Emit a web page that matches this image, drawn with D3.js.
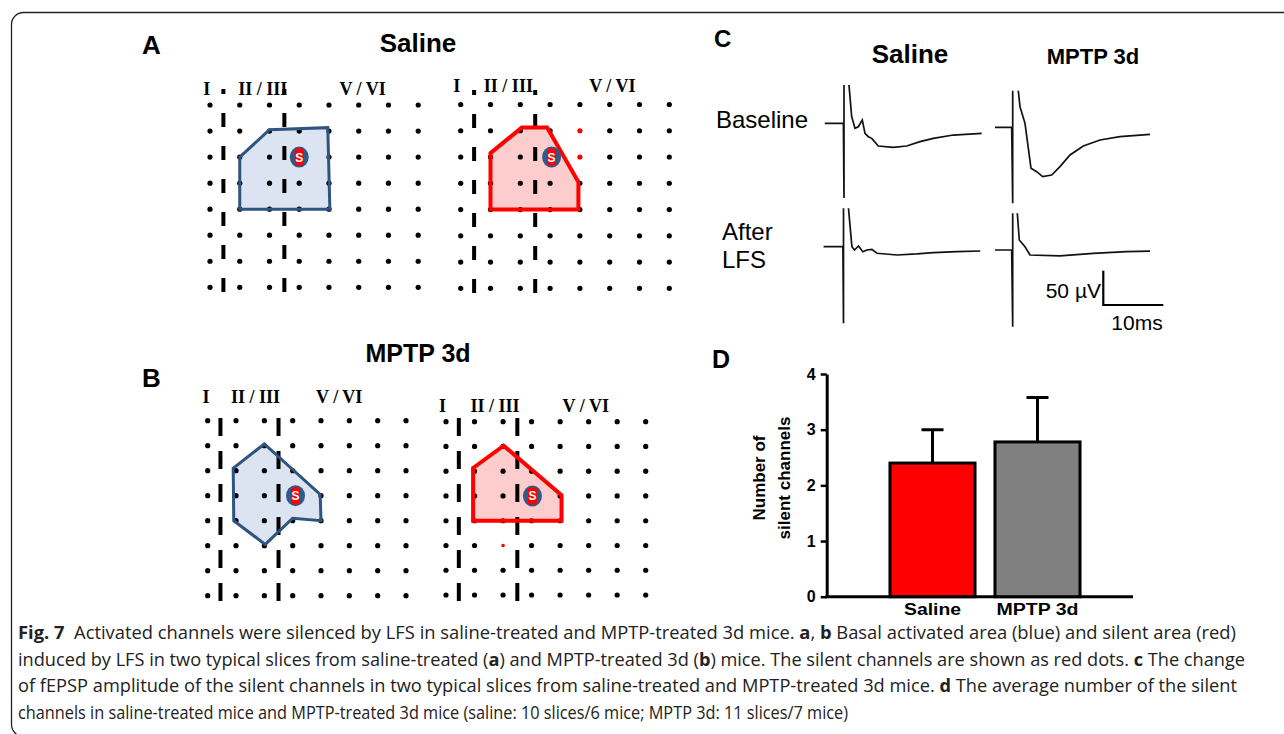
<!DOCTYPE html>
<html>
<head>
<meta charset="utf-8">
<script src="https://cdn.jsdelivr.net/npm/d3@7"></script>
<style>
  body { margin: 0; background: #fff; }
  svg { display: block; }
  text { white-space: pre; }
</style>
</head>
<body>
<div id="fig"></div>
<script>
// ---- data ----
// 8x8 electrode array; polygons / markers are in [column, row] grid units
const gridCols = d3.range(8), gridRows = d3.range(8);
const layerLabels = ["I", "II / III", "V / VI"];
const layerBorders = [0.45, 2.5];
const activeSalineA = [[1, 2], [2, 0.95], [3.96, 0.87], [4.03, 4], [1, 4]];
const silentSalineA = [[1, 1.85], [2.05, 0.88], [2.9, 0.88], [3.95, 2.95], [3.95, 4], [1, 4]];
const activeMptpB = [[2, 0.93], [0.9, 1.9], [0.92, 4], [2.03, 4.95], [3, 3.9], [4, 4], [3.97, 2.95]];
const silentMptpB = [[0.95, 1.87], [2.02, 0.97], [4.05, 2.97], [4.05, 4], [0.95, 4]];
const stimSites = [[3, 2], [3.05, 2], [3.1, 3], [3.03, 3]];
const silentDotsA = [[4, 1], [4, 2]];
const silentDotsB = [[2, 5]];

// fEPSP traces [ms, µV]; null separates the stimulus artefact from the response
const salineBaseline = [[-3.2, 0], [-0.1, 0], [0, -109], [0, 56], null, [0.83, 56], [1.28, 9.6], [1.83, -7.3],
  [2.38, -5], [3.05, 4.8], [3.5, -14.6], [4.05, -19.5], [4.62, -21.9], [5.72, -33.1], [8.22, -35],
  [10.45, -33.1], [12.67, -26.8], [14.88, -21.9], [18.22, -17.1], [22.95, -14.6]];
const salineLfs = [[-3.33, 0], [-0.1, 0], [0, -111.7], [0, 56], null, [0.83, 56], [1.4, 0], [1.83, -4.8],
  [2.5, 1], [3.23, -7.3], [3.9, -4.8], [4.73, -3.8], [5.57, -9.6], [8.9, -12.1], [12.23, -10.6],
  [15, -8.7], [18.9, -7.3], [22.8, -6.3]];
const mptpBaseline = [[-2.95, 0], [-0.17, 0], [0, -110.8], [0, 53.4], null, [0.93, 53.4], [1.22, 30],
  [2.05, 5.8], [3.05, -59.8], [4, -64.7], [5, -72], [6.5, -69.5], [7.88, -57.4], [9.55, -40.4],
  [11.77, -27.3], [14.55, -18.5], [17.88, -13.7], [22.88, -10.2]];
const mptpLfs = [[-2.95, 0], [-0.17, 0], [0, -111.8], [0, 53.5], null, [0.77, 53.5], [1.1, 14.6],
  [2.05, 4.8], [2.88, -7.3], [7.88, -8.7], [13.43, -4.8], [18.99, -2.5], [22.88, -1.5]];
const scaleBarMs = 10, scaleBarUv = 50;

// panel D
const groups = ["Saline", "MPTP 3d"];
const meanSilent = [2.4, 2.78];
const semSilent = [0.6, 0.8];
const barColors = ["#ff0000", "#808080"];
const yTicks = [0, 1, 2, 3, 4];

const caption = [
  [["Fig. 7", 1], ["  Activated channels were silenced by LFS in saline-treated and MPTP-treated 3d mice. ", 0], ["a", 1], [", ", 0], ["b", 1], [" Basal activated area (blue) and silent area (red)", 0]],
  [["induced by LFS in two typical slices from saline-treated (", 0], ["a", 1], [") and MPTP-treated 3d (", 0], ["b", 1], [") mice. The silent channels are shown as red dots. ", 0], ["c", 1], [" The change", 0]],
  [["of fEPSP amplitude of the silent channels in two typical slices from saline-treated and MPTP-treated 3d mice. ", 0], ["d", 1], [" The average number of the silent", 0]],
  [["channels in saline-treated mice and MPTP-treated 3d mice (saline: 10 slices/6 mice; MPTP 3d: 11 slices/7 mice)", 0]]
];

// ---- drawing ----
const W = 1284, H = 734;
const sans = "'Liberation Sans', Arial, sans-serif";
const svg = d3.select("#fig").append("svg").attr("width", W).attr("height", H)
  .style("font-family", sans);

svg.append("rect").attr("x", 11.5).attr("y", 12.5).attr("width", 1400).attr("height", 724)
  .attr("rx", 12).attr("fill", "none").attr("stroke", "#222").attr("stroke-width", 1.3);

function label(t, x, y, size, weight, anchor) {
  return svg.append("text").attr("x", x).attr("y", y).attr("font-size", size)
    .attr("font-weight", weight || "bold").attr("text-anchor", anchor || "start").text(t);
}

label("A", 142, 54, 26);
label("Saline", 418, 52, 26, "bold", "middle");
label("B", 142, 387, 26);
label("MPTP 3d", 418, 362, 25, "bold", "middle");

function grid(p) {
  const x = d3.scaleLinear().domain([0, 7]).range([p.x0, p.x1]);
  const y = d3.scaleLinear().domain([0, 7]).range([p.y0, p.y1]);
  const path = d3.line().x(d => x(d[0])).y(d => y(d[1]));
  const g = svg.append("g");

  g.append("path").attr("d", path(p.poly) + "Z").attr("fill", p.fill);

  g.selectAll(".border").data(layerBorders).join("line")
    .attr("x1", d => x(d)).attr("x2", d => x(d))
    .attr("y1", p.dashTop).attr("y2", y(7) + 10)
    .attr("stroke", "#000").attr("stroke-width", 4)
    .attr("stroke-dasharray", p.dash).attr("stroke-dashoffset", p.dashOffset);

  const pts = gridRows.flatMap(r => gridCols.map(c => [c, r]));
  const silent = d => p.red.some(q => q[0] === d[0] && q[1] === d[1]);
  g.selectAll(".dot").data(pts).join("circle")
    .attr("cx", d => x(d[0])).attr("cy", d => y(d[1]))
    .attr("r", d => silent(d) ? p.redR : 2.6)
    .attr("fill", d => silent(d) ? "#ff0000" : "#000");

  g.append("path").attr("d", path(p.poly) + "Z").attr("fill", "none")
    .attr("stroke", p.stroke).attr("stroke-width", p.sw);

  const s = g.append("g").attr("transform", `translate(${x(p.stim[0])},${y(p.stim[1])})`);
  s.append("ellipse").attr("rx", 9.5).attr("ry", 10.5).attr("fill", "#2f5a8a");
  s.append("rect").attr("x", -4.5).attr("y", -8.5).attr("width", 9).attr("height", 17).attr("rx", 2).attr("fill", "#ff0000");
  s.append("text").attr("y", 4.5).attr("text-anchor", "middle").attr("font-size", 12)
    .attr("font-weight", "bold").attr("fill", "#fff").text("S");

  g.selectAll(".layer").data(layerLabels).join("text")
    .attr("x", (d, i) => x(p.labelCols[i])).attr("y", p.labelY)
    .attr("text-anchor", "middle").attr("font-size", 18).attr("font-weight", "bold")
    .attr("font-family", "'Liberation Serif', 'Times New Roman', serif").text(d => d);
}

grid({ x0: 210, x1: 418.2, y0: 105, y1: 287.3, poly: activeSalineA, fill: "#dbe4f0", stroke: "#2e5480", sw: 3,
  red: [], redR: 2.6, stim: stimSites[0], labelY: 95, labelCols: [-0.11, 1.77, 5.13], dashTop: 89, dash: "14 19", dashOffset: 9 });
grid({ x0: 460.7, x1: 669.3, y0: 104.5, y1: 288.3, poly: silentSalineA, fill: "#fdcccc", stroke: "#ff0000", sw: 4,
  red: silentDotsA, redR: 2.6, stim: stimSites[1], labelY: 92, labelCols: [-0.13, 1.6, 5.09], dashTop: 90, dash: "14 19", dashOffset: 9 });
grid({ x0: 207.7, x1: 406, y0: 420.7, y1: 595.7, poly: activeMptpB, fill: "#dbe4f0", stroke: "#2e5480", sw: 3,
  red: [], redR: 2.6, stim: stimSites[2], labelY: 403, labelCols: [-0.06, 1.69, 4.64], dashTop: 418, dash: "18 15", dashOffset: 0 });
grid({ x0: 446, x1: 645.7, y0: 421.7, y1: 595, poly: silentMptpB, fill: "#fdcccc", stroke: "#ff0000", sw: 4,
  red: silentDotsB, redR: 1.8, stim: stimSites[3], labelY: 412, labelCols: [-0.12, 1.72, 4.9], dashTop: 418, dash: "18 15", dashOffset: 0 });

// ---- panel C ----
label("C", 714, 47, 24);
label("Saline", 910, 63, 26, "bold", "middle");
label("MPTP 3d", 1093, 64, 22, "bold", "middle");
label("Baseline", 716, 128, 24, "normal");
label("After", 722, 240, 24, "normal");
label("LFS", 722, 268, 24, "normal");

const tx = d3.scaleLinear().domain([0, 10]).range([0, 60]);
const vy = d3.scaleLinear().domain([0, 50]).range([0, -34.3]);
const traceLine = d3.line().defined(d => d !== null).x(d => tx(d[0])).y(d => vy(d[1]));
[[salineBaseline, 844, 123.3], [salineLfs, 843.5, 246.7], [mptpBaseline, 1012.7, 127.3], [mptpLfs, 1012.7, 250]]
  .forEach(([data, ox, oy]) => {
    svg.append("path").attr("transform", `translate(${ox},${oy})`).attr("d", traceLine(data))
      .attr("fill", "none").attr("stroke", "#111").attr("stroke-width", 1.7);
  });

const sb = svg.append("g").attr("transform", "translate(1103.3,305)");
sb.append("path").attr("d", `M0,${vy(scaleBarUv)}V0H${tx(scaleBarMs)}`)
  .attr("fill", "none").attr("stroke", "#000").attr("stroke-width", 2.2);
label(`${scaleBarUv} µV`, 1101, 298, 21, "normal", "end");
label(`${scaleBarMs}ms`, 1137, 330, 21, "normal", "middle");

// ---- panel D ----
label("D", 712, 368, 25);
const y = d3.scaleLinear().domain([0, 4]).range([596.7, 374]);
const x = d3.scaleBand().domain(groups).range([880, 1090]).paddingInner(0.19).paddingOuter(0.095);

const yAxis = svg.append("g").attr("transform", "translate(826.7,0)")
  .call(d3.axisLeft(y).tickValues(yTicks).tickFormat(d3.format("d")).tickSize(6).tickSizeOuter(0).tickPadding(5));
yAxis.select(".domain").attr("stroke-width", 3);
yAxis.selectAll(".tick line").attr("stroke-width", 2.5);
yAxis.selectAll(".tick text").attr("font-size", 16).attr("font-weight", "bold").attr("font-family", sans);

svg.append("line").attr("x1", 825.2).attr("x2", 1133).attr("y1", y(0)).attr("y2", y(0))
  .attr("stroke", "#000").attr("stroke-width", 3);

svg.selectAll(".err").data(groups).join("path")
  .attr("d", (d, i) => {
    const cx = x(d) + x.bandwidth() / 2;
    return `M${cx},${y(meanSilent[i])}V${y(meanSilent[i] + semSilent[i])}M${cx - 11},${y(meanSilent[i] + semSilent[i])}H${cx + 11}`;
  })
  .attr("fill", "none").attr("stroke", "#000").attr("stroke-width", 3);

svg.selectAll(".bar").data(groups).join("rect")
  .attr("x", d => x(d)).attr("width", x.bandwidth())
  .attr("y", (d, i) => y(meanSilent[i])).attr("height", (d, i) => y(0) - y(meanSilent[i]))
  .attr("fill", (d, i) => barColors[i]).attr("stroke", "#000").attr("stroke-width", 3);

const xLabLen = [57, 82];
svg.selectAll(".xlab").data(groups).join("text")
  .attr("x", d => x(d) + x.bandwidth() / 2).attr("y", 615)
  .attr("text-anchor", "middle").attr("font-size", 16).attr("font-weight", "bold")
  .attr("textLength", (d, i) => xLabLen[i]).attr("lengthAdjust", "spacingAndGlyphs").text(d => d);

const yl = svg.append("g").attr("transform", "translate(0,478) rotate(-90)");
yl.append("text").attr("x", 0).attr("y", 765).attr("text-anchor", "middle")
  .attr("font-size", 17).attr("font-weight", "bold").text("Number of");
yl.append("text").attr("x", 0).attr("y", 790).attr("text-anchor", "middle")
  .attr("font-size", 17).attr("font-weight", "bold").text("silent channels");

// ---- caption ----
const capStart = 18, capEnds = [1236, 1245, 1237, 848];
caption.forEach((segs, i) => {
  const t = svg.append("text").attr("x", capStart).attr("y", 639 + i * 26.5)
    .attr("font-family", "'Open Sans', 'Noto Sans', sans-serif").attr("font-size", 17.5)
    .attr("fill", "#222")
    .attr("textLength", capEnds[i] - capStart).attr("lengthAdjust", "spacingAndGlyphs");
  t.selectAll("tspan").data(segs).join("tspan")
    .attr("font-weight", d => d[1] ? "bold" : "normal").text(d => d[0]);
});
</script>
</body>
</html>
